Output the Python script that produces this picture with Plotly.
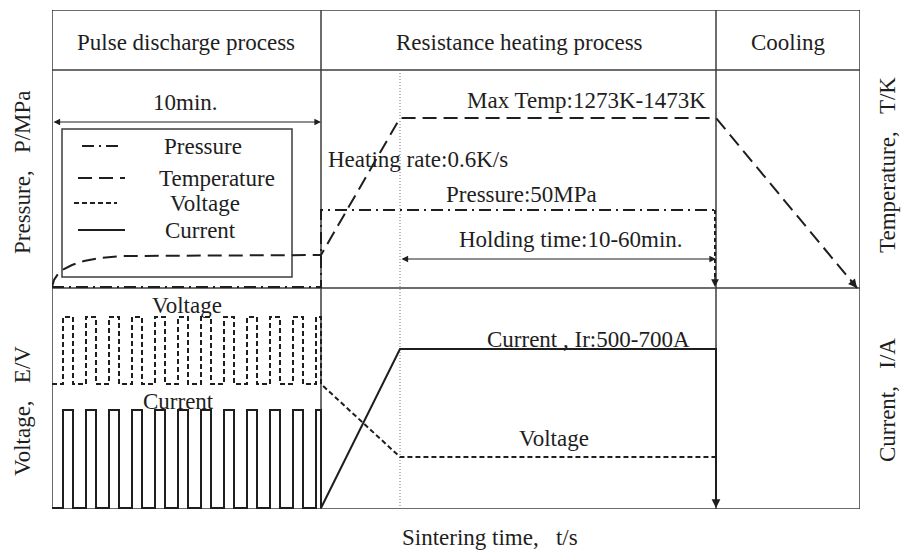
import plotly.graph_objects as go

# ---- schematic time axis (arbitrary units) ----
T_END = 808          # end of cooling
T_PULSE_END = 269    # end of pulse discharge stage
T_RAMP_END = 348     # end of heating ramp / start of holding
T_HOLD_END = 664     # end of holding / start of cooling

# ---- vertical levels (arbitrary units) ----
Y_TOP = 499
Y_HEADER = 439
Y_SPLIT = 221

# Temperature profile
temp_t = [0, 2, 6, 12, 20, 32, 48, 70, 269, 348, 664, 805]
temp_v = [222, 229, 235, 240, 244, 248, 251, 253, 254, 391, 391, 221]

# Pressure profile
pres_t = [0, 269, 269, 663]
pres_v = [222, 222, 299, 299]
pres_drop_t = [663, 663]
pres_drop_v = [299, 224]

# Pulse timing during the discharge stage
pulse_starts = [11, 34, 57, 80, 103, 126, 149, 172, 195, 218, 241, 264]
pulse_width = 10

# Voltage levels
volt_low, volt_high = 125, 192
volt_after_t = [348, 664]
volt_after_v = [52, 52]

# Current levels
cur_low, cur_high = 1, 99
cur_after_t = [348, 664, 664]
cur_after_v = [160, 160, 3]

# Legend entries
legend_names = ["Pressure", "Temperature", "Voltage", "Current"]
legend_y = [363, 331, 306, 279]
legend_x0 = [30, 26, 22, 26]
legend_x1 = [70, 73, 65, 73]
legend_text_x = [151, 165, 153, 148]

INK = "#1e1e1e"
FRAME = "#3c3c3c"
FONT = "Liberation Serif"
FS = 23

DASH = {
    "Pressure": "12px,5px,2px,5px",
    "Temperature": "14px,7px",
    "Voltage": "5px,3px",
    "Current": "solid",
}


def pulse_train(starts, width, low, high, t_end):
    t, v = [0], [low]
    for s in starts:
        e = min(s + width, t_end)
        t += [s, s, e, e]
        v += [low, high, high, low]
    if t[-1] < t_end:
        t.append(t_end)
        v.append(low)
    return t, v


fig = go.Figure()


def add_line(t, v, dash, width=2.0):
    fig.add_trace(go.Scatter(x=t, y=v, mode="lines", hoverinfo="skip",
                             line=dict(color=INK, width=width, dash=dash)))


# Temperature and pressure (upper panel)
add_line(temp_t, temp_v, DASH["Temperature"])
add_line(pres_t, pres_v, DASH["Pressure"])
add_line(pres_drop_t, pres_drop_v, "4px,3px")

# Voltage and current (lower panel)
vt, vv = pulse_train(pulse_starts, pulse_width, volt_low, volt_high, T_PULSE_END)
add_line(vt + volt_after_t, vv + volt_after_v, DASH["Voltage"])
ct, cv = pulse_train(pulse_starts, pulse_width, cur_low, cur_high, T_PULSE_END)
add_line(ct + cur_after_t, cv + cur_after_v, DASH["Current"])

# Legend samples
for name, y, x0, x1 in zip(legend_names, legend_y, legend_x0, legend_x1):
    add_line([x0, x1], [y, y], DASH[name])

# ---- frame ----
shapes = [
    dict(type="rect", x0=0, x1=T_END, y0=0, y1=Y_TOP),
    dict(type="line", x0=0, x1=T_END, y0=Y_HEADER, y1=Y_HEADER),
    dict(type="line", x0=0, x1=T_END, y0=Y_SPLIT, y1=Y_SPLIT),
    dict(type="line", x0=T_PULSE_END, x1=T_PULSE_END, y0=0, y1=Y_TOP),
    dict(type="line", x0=T_HOLD_END, x1=T_HOLD_END, y0=0, y1=Y_TOP),
    dict(type="rect", x0=10, x1=240, y0=232, y1=380),
]
for s in shapes:
    s.update(xref="x", yref="y", line=dict(color=FRAME, width=1.5), layer="below")
shapes.append(dict(type="line", xref="x", yref="y", x0=T_RAMP_END, x1=T_RAMP_END,
                   y0=0, y1=Y_HEADER, line=dict(color="#777", width=1, dash="1px,2px"),
                   layer="below"))

# ---- text ----
annotations = []


def text(x, y, s, angle=0, size=FS, ref="data"):
    if ref == "paper":
        # positions outside the data range go on paper coordinates
        x, y, xr, yr = x / T_END, y / Y_TOP, "paper", "paper"
    else:
        xr, yr = "x", "y"
    annotations.append(dict(x=x, y=y, xref=xr, yref=yr, text=s, showarrow=False,
                            textangle=angle, xanchor="center", yanchor="middle",
                            font=dict(family=FONT, size=size, color=INK)))


text(134, 467, "Pulse discharge process")
text(467, 467, "Resistance heating process")
text(736, 467, "Cooling")
text(133, 407, "10min.")
for name, y, x in zip(legend_names, legend_y, legend_text_x):
    text(x, y, name)
text(534, 409, "Max Temp:1273K-1473K")
text(366, 350, "Heating rate:0.6K/s")
text(469, 315, "Pressure:50MPa")
text(519, 270, "Holding time:10-60min.")
text(135, 204, "Voltage")
text(126, 108, "Current")
text(536, 170, "Current , Ir:500-700A")
text(502, 71, "Voltage")
SP = "\u00a0\u00a0\u00a0"
text(-30, 337, "Pressure," + SP + "P/MPa", angle=-90, ref="paper")
text(-30, 98, "Voltage," + SP + "E/V", angle=-90, ref="paper")
text(835, 344, "Temperature," + SP + "T/K", angle=-90, ref="paper")
text(835, 109, "Current," + SP + "I/A", angle=-90, ref="paper")
text(438, -28, "Sintering time," + SP + "t/s", ref="paper")


# ---- arrows ----
def arrow(x, y, ax, ay, both=False, width=1.2):
    annotations.append(dict(x=x, y=y, ax=ax, ay=ay, xref="x", yref="y",
                            axref="x", ayref="y", text="", showarrow=True,
                            arrowhead=2, arrowsize=1.1, arrowwidth=width,
                            arrowcolor=INK, standoff=0, startstandoff=0,
                            startarrowhead=2, startarrowsize=1.1,
                            arrowside="end+start" if both else "end"))


arrow(T_PULSE_END, 387, 0, 387, both=True)
arrow(T_HOLD_END, 250, T_RAMP_END, 250, both=True)
arrow(805, 221, 797, 231, width=1.6)
arrow(663, 222, 663, 236, width=1.4)
arrow(664, 1, 664, 15, width=1.6)

fig.update_layout(
    width=903, height=550,
    margin=dict(l=52, r=43, t=10, b=41),
    paper_bgcolor="white", plot_bgcolor="white",
    showlegend=False,
    xaxis=dict(range=[0, T_END], visible=False, fixedrange=True),
    yaxis=dict(range=[0, Y_TOP], visible=False, fixedrange=True),
    shapes=shapes, annotations=annotations,
    font=dict(family=FONT, color=INK),
)

fig.write_html("out.html", config={"displayModeBar": False})
